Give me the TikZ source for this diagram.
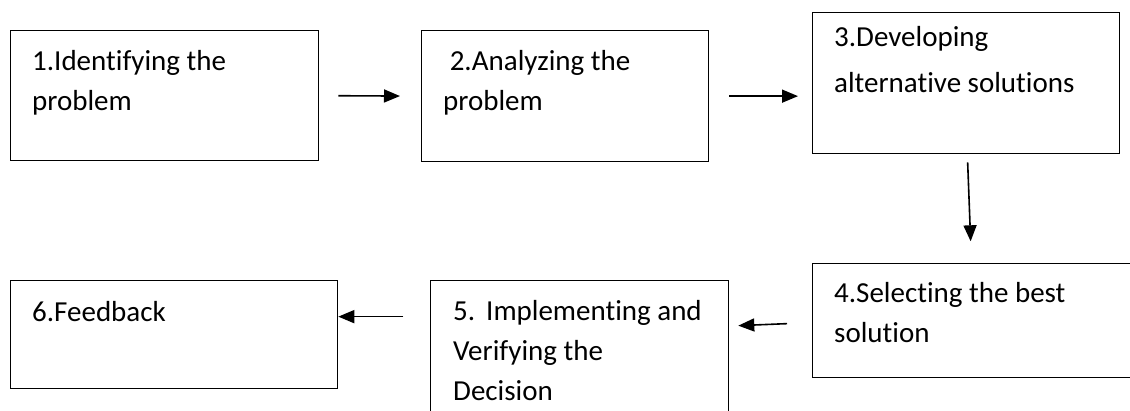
\documentclass[tikz,border=0pt]{standalone}
\usepackage{fontspec}
\setmainfont{Carlito}[Ligatures={NoCommon}]
\usetikzlibrary{arrows.meta,calc}
\begin{document}
\begin{tikzpicture}[x=1pt,y=-1pt,
  box/.style={draw=black,line width=1.3pt,inner sep=0pt,anchor=north west},
  txt/.style={anchor=base west,inner sep=0pt,align=left,
    font=\fontsize{29}{40}\selectfont},
  flow/.style={line width=1.6pt,-{Triangle[length=16pt,width=13pt]}}]
\useasboundingbox (0,0) rectangle (1130,411);
\clip (0,0) rectangle (1130,411);
% boxes
\node[box,minimum width=308pt,minimum height=130pt] (b1) at (10,30) {};
\node[box,minimum width=287pt,minimum height=131pt] (b2) at (421,30) {};
\node[box,minimum width=307pt,minimum height=141pt] (b3) at (812,12) {};
\node[box,minimum width=328pt,minimum height=114pt] (b4) at (812,263) {};
\node[box,minimum width=298pt,minimum height=150pt] (b5) at (430,280) {};
\node[box,minimum width=327pt,minimum height=108pt] (b6) at (10,280) {};
% labels (placed by the baseline of their last line)
\node[txt] (t1) at (32,111) {1.Identifying the\\problem};
\node[txt] (t2) at (443,111) {\ 2.Analyzing the\\problem};
\node[txt] (t3) at (834,93) {3.Developing\\[6pt]alternative solutions};
\node[txt] (t4) at (834,343) {4.Selecting the best\\solution};
\node[txt] (t5) at (453,401) {5.\hspace{11pt}Implementing and\\Verifying the\\Decision};
\node[txt] (t6) at (32,322) {6.Feedback};
% connectors
\draw[flow,shorten <=19pt,shorten >=21pt] (b1.east) -- (b2.west);
\draw[flow,shorten <=20pt,shorten >=14pt] (b2.east) -- (b2.east -| b3.west);
\draw[flow] ($(b3.south)+(1.5,8)$) -- ($(b3.south)+(4.5,87)$);
\draw[flow] ($(b4.west)+(-25,3)$) -- ($(b5.east |- b4.west)+(9,5)$);
\draw[flow] ($(b6.east)+(65,-18)$) -- ($(b6.east)+(0,-18)$);
\end{tikzpicture}
\end{document}
